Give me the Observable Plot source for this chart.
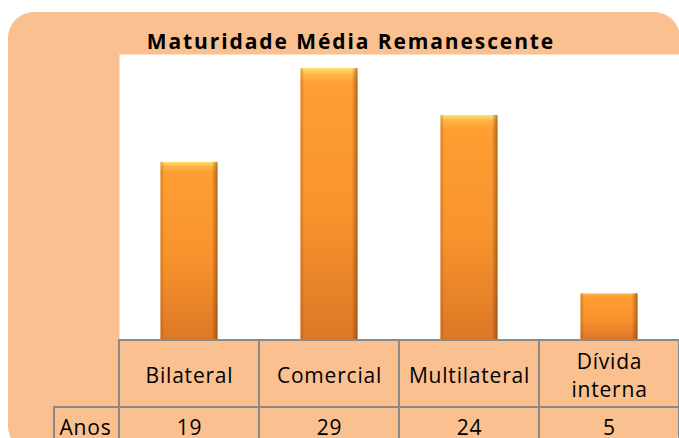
<!DOCTYPE html>
<html><head><meta charset="utf-8">
<script src="https://cdn.jsdelivr.net/npm/d3@7"></script>
<script src="https://cdn.jsdelivr.net/npm/@observablehq/plot@0.6"></script>
<style>
html,body{margin:0;padding:0;background:#fff;width:679px;height:438px;overflow:hidden;}
#wrap{position:relative;width:679px;height:438px;}
#bg{position:absolute;left:8px;top:12px;width:672px;height:440px;background:#FAC090;border-radius:26px;}
#title{position:absolute;left:0;width:702px;top:28px;text-align:center;font:700 21px "Open Sans";letter-spacing:1.9px;color:#000;line-height:26px;}
#chart{position:absolute;left:0;top:0;}
</style></head><body>
<div id="wrap"><div id="bg"></div><div id="title">Maturidade Média Remanescente</div><div id="chart"></div></div>
<script>
const categories = ["Bilateral", "Comercial", "Multilateral", "Dívida interna"];
const values = [19, 29, 24, 5];
const rowLabel = "Anos";

const data = categories.map((c, i) => ({cat: c, value: values[i]}));

const W = 679, H = 438, mL = 119, mR = 0, mT = 54, mB = 98;
const yMax = 30.5;
const unit = (H - mT - mB) / yMax;
const toY = px => -px / unit;          // offset in pixels below the baseline, as a y value
const band = (W - mL - mR) / categories.length;
const headerBottom = toY(67), tableBottom = toY(115);
const lineColor = "#8a8a8a";

function defs() {
  const g = d3.create("svg:defs");
  const v = g.append("linearGradient").attr("id", "barV").attr("x1", 0).attr("y1", 0).attr("x2", 0).attr("y2", 1);
  [[0, "#FFE36A"], [0.025, "#FFB448"], [0.06, "#FF9E33"], [0.55, "#F8922D"], [1, "#DC7726"]]
    .forEach(([o, c]) => v.append("stop").attr("offset", o).attr("stop-color", c));
  const h = g.append("linearGradient").attr("id", "barH").attr("x1", 0).attr("y1", 0).attr("x2", 1).attr("y2", 0);
  [[0, "rgba(150,70,0,0.35)"], [0.07, "rgba(150,70,0,0)"], [0.9, "rgba(120,55,0,0)"], [1, "rgba(110,50,0,0.55)"]]
    .forEach(([o, c]) => h.append("stop").attr("offset", o).attr("stop-color", c));
  const f = g.append("filter").attr("id", "shadow").attr("x", "-20%").attr("y", "-20%").attr("width", "150%").attr("height", "150%");
  f.append("feDropShadow").attr("dx", 2).attr("dy", 1).attr("stdDeviation", 1.6).attr("flood-color", "#000").attr("flood-opacity", 0.35);
  return g.node();
}

const chart = Plot.plot({
  width: W, height: H,
  marginLeft: mL, marginRight: mR, marginTop: mT, marginBottom: mB,
  style: {background: "transparent", fontFamily: "Open Sans", fontSize: "21px", letterSpacing: "0.8px", color: "#000", overflow: "visible"},
  x: {type: "band", domain: categories, padding: 0, axis: null},
  y: {domain: [0, yMax], axis: null},
  marks: [
    defs,
    Plot.frame({fill: "white", stroke: "none"}),
    Plot.barY(data, {x: "cat", y: "value", insetLeft: 41.5, insetRight: 41.5, fill: "url(#barV)", ariaLabel: "bars-main"}),
    Plot.barY(data, {x: "cat", y: "value", insetLeft: 41.5, insetRight: 41.5, fill: "url(#barH)", ariaLabel: "bars-edge"}),
    // table: category row and value row
    Plot.barY(data, {x: "cat", y1: 0, y2: headerBottom, fill: "none", stroke: lineColor, strokeWidth: 2}),
    Plot.barY(data, {x: "cat", y1: headerBottom, y2: tableBottom, fill: "none", stroke: lineColor, strokeWidth: 2}),
    Plot.barY([rowLabel], {x: () => categories[0], y1: headerBottom, y2: tableBottom, insetLeft: -65, insetRight: band, fill: "none", stroke: lineColor, strokeWidth: 2}),
    Plot.text(data, {x: "cat", y: () => toY(33.5), text: "cat", lineWidth: 6, lineHeight: 1.31, fill: "#000"}),
    Plot.text(data, {x: "cat", y: () => toY(87.3), text: d => String(d.value), fill: "#000"}),
    Plot.text([rowLabel], {x: () => categories[0], y: () => toY(87.3), dx: -104, text: d => d, fill: "#000"})
  ]
});
d3.select(chart).selectAll('g[aria-label="bars-main"]').attr("filter", "url(#shadow)");
document.getElementById("chart").appendChild(chart);
</script>
</body></html>
